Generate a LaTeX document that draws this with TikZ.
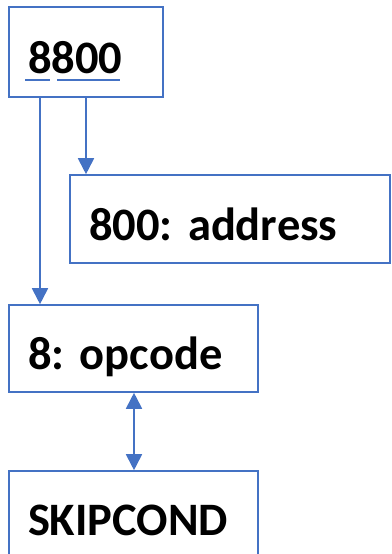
\documentclass[tikz,border=0pt]{standalone}
\usepackage{fontspec}
\setmainfont{Carlito}
\usetikzlibrary{positioning, arrows.meta}
\definecolor{wordblue}{HTML}{4472C4}
\tikzset{
	block/.style n args={1}{
		draw=wordblue, % Border colour
		line width=1.6pt, % Border thickness
		rectangle, % Shape of the node
		text width=#1, % Width of the text area
		inner xsep=19pt, % Left and right padding
		inner ysep=0pt,
		text height=42pt, % Puts the baseline a bit below the middle
		text depth=0pt,
		align=left, % Text alignment within the node
		font=\fontsize{46.5}{56}\selectfont\bfseries\frenchspacing
	},
	link/.style={
		draw=wordblue,
		line width=1.8pt,
		-{Triangle[width=16pt,length=16pt]}
	},
	twoway/.style={
		draw=wordblue,
		line width=1.8pt,
		{Triangle[width=16pt,length=16pt]}-{Triangle[width=16pt,length=16pt]}
	}
}

\begin{document}
\begin{tikzpicture}[x=1pt, y=-1pt]
	\useasboundingbox (0,0) rectangle (391,554);
	
	\node[block=116pt, minimum height=90pt] (word) at (86,52) {8800};
	\draw[wordblue, line width=1.2pt] (25,80) -- (50,80);
	\draw[wordblue, line width=1.2pt] (57,80) -- (120,80);
	
	\node[block=282pt, minimum height=88pt] (addr) at (230,219) {800: address};
	\node[block=211pt, minimum height=87pt] (opcode) at (133.5,348.5) {8: opcode};
	\node[block=211pt, minimum height=87pt] (skip) at (133.5,514.5) {SKIPCOND};
	
	\coordinate (lo) at (40,0);
	\coordinate (hi) at (86,0);
	\coordinate (mid) at (134,0);
	\draw[link] (word.south -| lo) -- (opcode.north -| lo);
	\draw[link] (word.south -| hi) -- (addr.north -| hi);
	\draw[twoway] (opcode.south -| mid) -- (skip.north -| mid);
	
\end{tikzpicture}
\end{document}
